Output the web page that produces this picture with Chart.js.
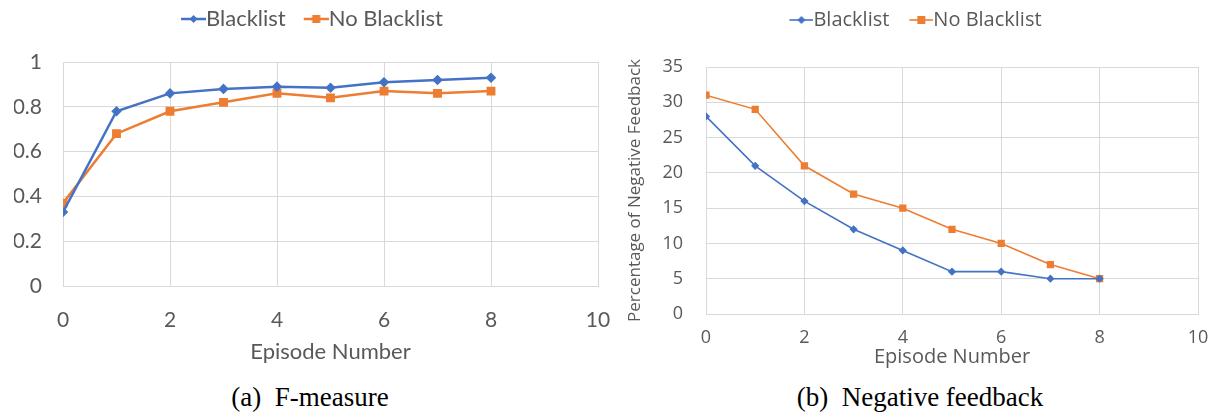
<!DOCTYPE html>
<html>
<head>
<meta charset="utf-8">
<script src="https://cdn.jsdelivr.net/npm/chart.js@4"></script>
<style>
  body { margin: 0; background: #fff; width: 1226px; height: 417px; position: relative; overflow: hidden; }
  .box { position: absolute; }
  .cap { position: absolute; top: 382px; font-family: "Liberation Serif", "DejaVu Serif", serif; font-size: 27px; color: #000; text-align: center; }
</style>
</head>
<body>
<div class="box" style="left:0;top:0;width:615px;height:375px"><canvas id="chartA"></canvas></div>
<div class="box" style="left:615px;top:0;width:611px;height:375px"><canvas id="chartB"></canvas></div>
<div class="cap" style="left:110px;width:400px">(a)&nbsp;&nbsp;F-measure</div>
<div class="cap" style="left:720px;width:400px">(b)&nbsp;&nbsp;Negative feedback</div>
<script>
// episodes on x axis
const episodes = [0, 1, 2, 3, 4, 5, 6, 7, 8];
const seriesNames = ["Blacklist", "No Blacklist"];
// F-measure
const fBlacklist = [0.33, 0.78, 0.86, 0.88, 0.89, 0.885, 0.91, 0.92, 0.93];
const fNoBlacklist = [0.37, 0.68, 0.78, 0.82, 0.86, 0.84, 0.87, 0.86, 0.87];
// negative feedback (%)
const negBlacklist = [28, 21, 16, 12, 9, 6, 6, 5, 5];
const negNoBlacklist = [31, 29, 21, 17, 15, 12, 10, 7, 5];

const blue = "#4472C4";
const orange = "#ED7D31";
const textCol = "#595959";
const gridCol = "#d9d9d9";

function pts(ys) {
  return ys.map((y, i) => ({ x: episodes[i], y: y }));
}

// line+marker icon for the legend; line sits at the right end so it touches the text
function legendIcon(color, style, totalW, lineW, lw) {
  const c = document.createElement("canvas");
  c.width = totalW; c.height = 12;
  const g = c.getContext("2d");
  const x0 = totalW - lineW, mid = totalW - lineW / 2;
  g.strokeStyle = color; g.fillStyle = color; g.lineWidth = lw;
  g.beginPath(); g.moveTo(x0, 6); g.lineTo(totalW, 6); g.stroke();
  if (style === "rect") {
    g.fillRect(mid - 4, 2, 8, 8);
  } else {
    g.beginPath(); g.moveTo(mid, 2); g.lineTo(mid + 4, 6); g.lineTo(mid, 10); g.lineTo(mid - 4, 6); g.closePath(); g.fill();
  }
  return c;
}

function makeChart(id, cfg) {
  const font = cfg.font;
  // push the plot down below the legend
  const legendGap = {
    id: "legendGap",
    beforeInit(chart) {
      const fit = chart.legend.fit;
      chart.legend.fit = function () {
        fit.call(this);
        this.height += cfg.legExtra;
      };
    }
  };
  return new Chart(document.getElementById(id), {
    type: "line",
    data: {
      datasets: [
        { label: seriesNames[0], data: pts(cfg.a), borderColor: blue, backgroundColor: blue,
          borderWidth: cfg.lw, pointStyle: "rectRot", pointRadius: cfg.rA, pointHoverRadius: cfg.rA, tension: 0 },
        { label: seriesNames[1], data: pts(cfg.b), borderColor: orange, backgroundColor: orange,
          borderWidth: cfg.lw, pointStyle: "rect", pointRadius: cfg.rB, pointHoverRadius: cfg.rB, tension: 0 }
      ]
    },
    plugins: [legendGap],
    options: {
      responsive: true,
      maintainAspectRatio: false,
      animation: false,
      layout: { padding: cfg.pad },
      plugins: {
        tooltip: { enabled: false },
        legend: {
          position: "top",
          labels: {
            color: textCol,
            font: { family: font, size: cfg.legSize },
            usePointStyle: true,
            pointStyleWidth: cfg.boxW,
            padding: cfg.legPad,
            generateLabels: (chart) => chart.data.datasets.map((ds, i) => ({
              text: ds.label,
              fontColor: textCol,
              pointStyle: legendIcon(ds.borderColor, ds.pointStyle, cfg.boxW + cfg.legSize, cfg.iconW, cfg.lw),
              datasetIndex: i,
              lineWidth: 0
            }))
          }
        }
      },
      scales: {
        x: {
          type: "linear", min: 0, max: 10,
          ticks: { stepSize: 2, color: textCol, font: { family: font, size: cfg.tickSize }, padding: cfg.xTickPad },
          grid: { color: gridCol, drawTicks: false },
          border: { color: gridCol },
          title: { display: true, text: "Episode Number", color: textCol, font: { family: font, size: cfg.titleSize }, padding: 0 },
          afterFit: (s) => { s.height = cfg.xH; s.paddingLeft = 0; s.paddingRight = 0; }
        },
        y: {
          min: 0, max: cfg.yMax,
          ticks: { stepSize: cfg.yStep, color: textCol, font: { family: font, size: cfg.tickSize }, padding: cfg.yTickPad,
                   callback: (v) => String(+v.toFixed(2)) },
          grid: { color: gridCol, drawTicks: false },
          border: { color: gridCol },
          title: { display: !!cfg.yTitle, text: cfg.yTitle || "", color: textCol, font: { family: font, size: cfg.yTitleSize || 12 }, padding: 2 },
          afterFit: (s) => { s.width = cfg.yW; }
        }
      }
    }
  });
}

makeChart("chartA", {
  a: fBlacklist, b: fNoBlacklist, yMax: 1, yStep: 0.2,
  font: "Lato", legSize: 22, legPad: 6, legExtra: 22, boxW: 26, tickSize: 21, titleSize: 22,
  lw: 2.5, rA: 3.5, rB: 4.5, iconW: 25,
  pad: { top: 2, left: 14, right: 17, bottom: 10 },
  xH: 79, yW: 49, xTickPad: 22, yTickPad: 21
});

makeChart("chartB", {
  a: negBlacklist, b: negNoBlacklist, yMax: 35, yStep: 5,
  font: "Open Sans", legSize: 20, legPad: 10, legExtra: 27, boxW: 24, tickSize: 18, titleSize: 20,
  lw: 1.6, rA: 3, rB: 4, iconW: 24,
  pad: { top: 0, left: 8, right: 28, bottom: 6 },
  xH: 55, yW: 83, xTickPad: 13, yTickPad: 23,
  yTitle: "Percentage of Negative Feedback", yTitleSize: 17
});
</script>
</body>
</html>
